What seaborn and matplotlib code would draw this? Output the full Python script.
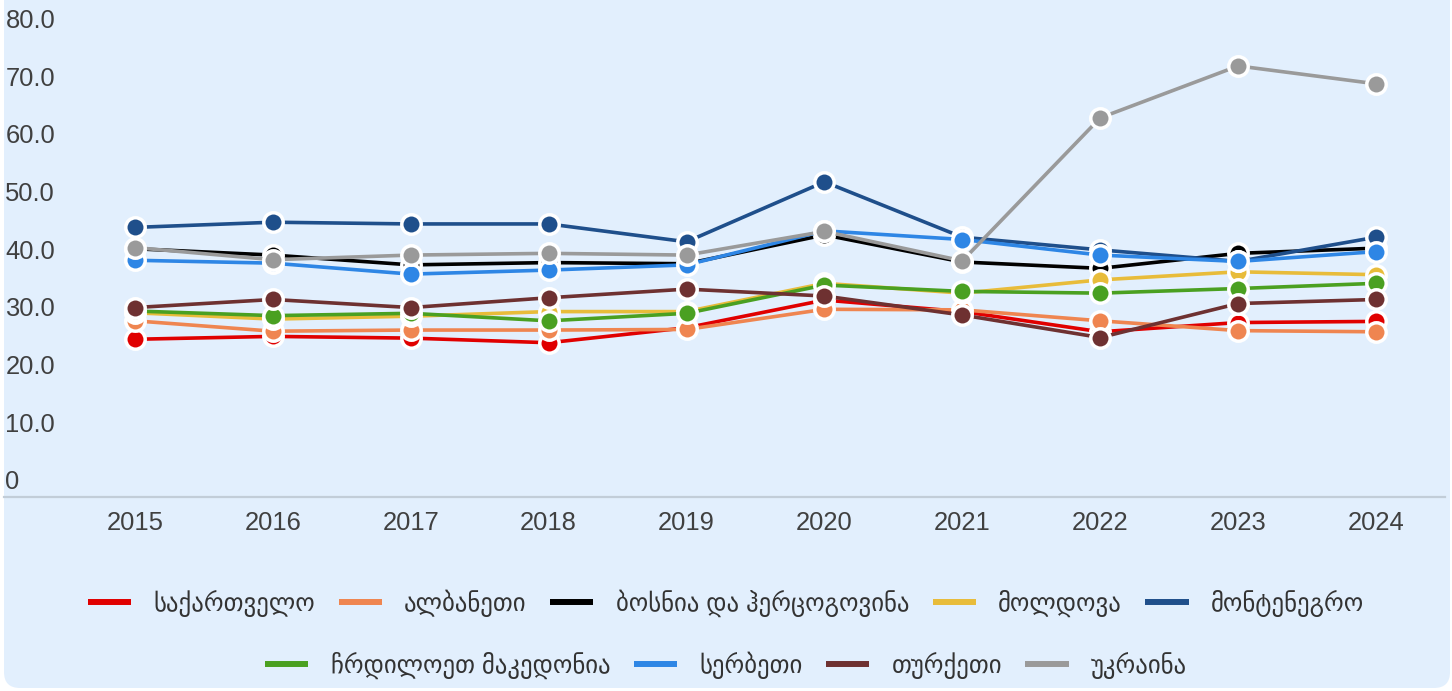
import numpy as np
import pandas as pd
import matplotlib
matplotlib.use("Agg")
import matplotlib.pyplot as plt
from matplotlib.patches import FancyBboxPatch
from matplotlib.lines import Line2D
import seaborn as sns

years = [2015, 2016, 2017, 2018, 2019, 2020, 2021, 2022, 2023, 2024]

countries = [
    "საქართველო", "ალბანეთი", "ბოსნია და ჰერცოგოვინა", "მოლდოვა", "მონტენეგრო",
    "ჩრდილოეთ მაკედონია", "სერბეთი", "თურქეთი", "უკრაინა",
]

georgia = [24.4, 24.9, 24.6, 23.8, 26.4, 31.2, 29.2, 25.7, 27.3, 27.5]
albania = [27.6, 25.8, 26.0, 26.0, 26.1, 29.6, 29.5, 27.6, 25.9, 25.7]
bosnia = [40.1, 39.0, 37.3, 37.7, 37.5, 42.5, 37.8, 36.7, 39.3, 40.2]
moldova = [29.0, 27.9, 28.4, 29.2, 29.2, 34.1, 32.4, 34.7, 36.1, 35.6]
montenegro = [43.8, 44.7, 44.4, 44.4, 41.3, 51.7, 42.1, 39.9, 37.9, 42.1]
north_macedonia = [29.3, 28.5, 28.9, 27.6, 28.9, 33.8, 32.7, 32.4, 33.2, 34.1]
serbia = [38.1, 37.6, 35.7, 36.4, 37.3, 43.2, 41.7, 39.0, 37.9, 39.6]
turkey = [29.9, 31.3, 29.9, 31.6, 33.1, 31.9, 28.6, 24.7, 30.6, 31.3]
ukraine = [40.3, 38.2, 39.0, 39.3, 39.0, 43.1, 38.0, 62.8, 71.8, 68.7]

series_values = [georgia, albania, bosnia, moldova, montenegro,
                 north_macedonia, serbia, turkey, ukraine]

colors = ["#E00000", "#EF8550", "#000000", "#E8BC3A", "#1F4F8B",
          "#4AA021", "#2E86E5", "#6E3131", "#9A9A9A"]

y_ticks = [0, 10, 20, 30, 40, 50, 60, 70, 80]
y_tick_labels = ["0", "10.0", "20.0", "30.0", "40.0", "50.0", "60.0", "70.0", "80.0"]

df = pd.DataFrame({
    "year": np.tile(years, len(countries)),
    "value": np.concatenate(series_values),
    "country": np.repeat(countries, len(years)),
})

sns.set_style("white")
plt.rcParams["font.family"] = ["Liberation Sans", "DejaVu Sans"]

W, H = 1452, 691
fig = plt.figure(figsize=(W / 100, H / 100), dpi=100, facecolor="white")

# rounded light-blue panel behind everything
panel = FancyBboxPatch((4, 3), W - 6, H + 40,
                       boxstyle="round,pad=0,rounding_size=16",
                       transform=None, facecolor="#E2EFFD", edgecolor="none",
                       zorder=-10)
fig.patches.append(panel)

ax_left, ax_right = 4, 1445
ax_top, ax_bottom = 10, 496.7
ax = fig.add_axes([ax_left / W, 1 - ax_bottom / H,
                   (ax_right - ax_left) / W, (ax_bottom - ax_top) / H])
ax.set_facecolor("none")

sns.lineplot(data=df, x="year", y="value", hue="country",
             hue_order=countries, palette=colors, marker="o",
             markersize=14, markeredgecolor="white", markeredgewidth=2.5,
             linewidth=2.6, legend=False, ax=ax, sort=False)

ax.set_xlim(2014.05, 2024.5)
ax.set_ylim(-2.9, 81.5)
ax.set_xticks(years)
ax.set_xticklabels([str(y) for y in years])
ax.set_yticks(y_ticks)
ax.set_yticklabels(y_tick_labels)
ax.set_xlabel("")
ax.set_ylabel("")

for side in ["top", "right", "left"]:
    ax.spines[side].set_visible(False)
ax.spines["bottom"].set_color("#C2CDD8")
ax.spines["bottom"].set_linewidth(1.6)

ax.tick_params(axis="x", length=0, pad=10, labelsize=18.4, labelcolor="#404040")
ax.tick_params(axis="y", length=0, pad=-1, labelsize=18.4, labelcolor="#404040")
for lab in ax.get_yticklabels():
    lab.set_horizontalalignment("left")
    lab.set_zorder(5)

handles = [Line2D([0], [0], color=c, linewidth=4.3, solid_capstyle="butt")
           for c in colors]

legend_kw = dict(frameon=False, fontsize=17.8, handlelength=1.75,
                 handletextpad=0.9, columnspacing=0.95, labelcolor="#333333")
leg1 = fig.legend(handles[:5], countries[:5], ncol=5, loc="center",
                  bbox_to_anchor=(0.5, 1 - 603 / H), **legend_kw)
leg2 = fig.legend(handles[5:], countries[5:], ncol=4, loc="center",
                  bbox_to_anchor=(0.5, 1 - 665 / H), **legend_kw)

fig.savefig("out.png", dpi=100, facecolor="white")
